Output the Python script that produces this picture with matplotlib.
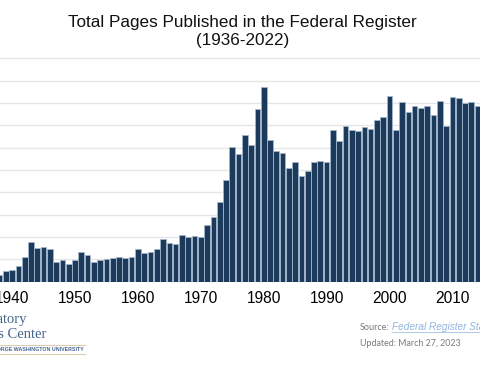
import matplotlib.pyplot as plt
from matplotlib.lines import Line2D

# Total pages published in the Federal Register, 1936-2022
years = list(range(1936, 2023))
pages = [2620, 3450, 3194, 5007, 5307, 6877, 11134, 17553, 15194, 15508,
         14736, 8902, 9608, 7952, 9562, 13175, 11896, 8912, 9910, 10196,
         10528, 11156, 10579, 11116, 14479, 12792, 13226, 14842, 19304, 17206,
         16850, 21088, 20072, 20466, 20036, 25442, 28924, 35592, 45422, 60221,
         57072, 65603, 61261, 77498, 87012, 63554, 58494, 57704, 50998, 53480,
         47418, 49654, 53376, 53842, 53620, 67716, 62928, 69688, 68108, 67518,
         69368, 68530, 72356, 73880, 83294, 67702, 80332, 75798, 78852, 77777,
         78724, 74408, 80700, 69644, 82480, 82351, 80050, 80462, 78796, 81611,
         97069, 61950, 68082, 72564, 87352, 74352, 80756]
tick_years = [1940, 1950, 1960, 1970, 1980, 1990, 2000, 2010, 2020]

W, H = 480, 368
fig = plt.figure(figsize=(W / 100, H / 100), dpi=100)
plt.rcParams['font.family'] = ['Liberation Sans', 'DejaVu Sans']

# axes extend past the figure edges (the reference is a crop of a wider chart)
px_per_year = 6.29
x0, x1 = 1935.4, 2022.6
left_px = 263.7 - (1980 - x0) * px_per_year
right_px = 263.7 + (x1 - 1980) * px_per_year
ymax = 105000
px_per_10k = 22.34
base_px = H - 281.7
top_px = base_px + ymax / 10000 * px_per_10k
ax = fig.add_axes([left_px / W, base_px / H, (right_px - left_px) / W,
                   (top_px - base_px) / H])

ax.bar(years, pages, width=0.9, color='#1b3a5c', edgecolor='#a3b6ca',
       linewidth=0.6, zorder=3)
ax.set_xlim(x0, x1)
ax.set_ylim(0, ymax)
ax.set_yticks(range(0, 100001, 10000))
ax.set_yticklabels([])
ax.set_xticks(tick_years)
ax.set_xticklabels([str(y) for y in tick_years], fontsize=11.2)
ax.tick_params(length=0, pad=7)
ax.grid(axis='y', color='#e6e6e6', linewidth=1, zorder=0)
for s in ax.spines.values():
    s.set_visible(False)

fig.text(0.505, 1 - 22.5 / H, 'Total Pages Published in the Federal Register',
         ha='center', va='center', fontsize=12.3, color='#111111')
fig.text(0.505, 1 - 40.5 / H, '(1936-2022)', ha='center', va='center',
         fontsize=12.3, color='#111111')

# logo (cropped at left edge)
logo_c = '#45658c'
fig.text(27 / W, 1 - 320 / H, 'Regulatory', ha='right', va='center',
         fontsize=10.5, family='Liberation Serif', color=logo_c)
fig.text(46 / W, 1 - 335 / H, 'Studies Center', ha='right', va='center',
         fontsize=10.5, family='Liberation Serif', color=logo_c)
fig.text(84 / W, 1 - 349.5 / H, 'THE GEORGE WASHINGTON UNIVERSITY',
         ha='right', va='center', fontsize=3.8, fontweight='bold',
         color=logo_c)
for yy in (345, 354):
    fig.add_artist(Line2D([0, 85 / W], [1 - yy / H, 1 - yy / H],
                          color='#dccdb0', linewidth=0.8))

# source notes
note_c = '#7a7a7a'
fig.text(360 / W, 1 - 327 / H, 'Source:', ha='left', va='center',
         fontsize=6.5, family='Lato', color=note_c)
fig.text(392 / W, 1 - 327 / H, 'Federal Register Statistics', ha='left',
         va='center', fontsize=7.2, color='#8fb4e0', style='italic')
fig.add_artist(Line2D([392 / W, 1], [1 - 331.5 / H, 1 - 331.5 / H],
                      color='#8fb4e0', linewidth=0.5))
fig.text(360 / W, 1 - 344 / H, 'Updated: March 27, 2023', ha='left',
         va='center', fontsize=6.4, family='Lato', color=note_c)

fig.savefig('out.png', dpi=100)
